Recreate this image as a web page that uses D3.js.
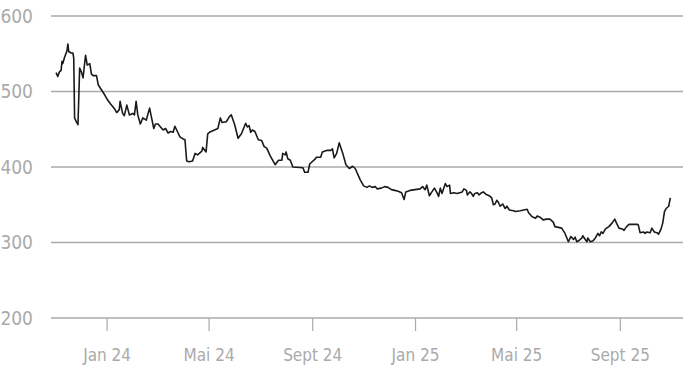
<!DOCTYPE html>
<html>
<head>
<script src="https://cdn.jsdelivr.net/npm/d3@7"></script>
<style>
  body { margin: 0; background: #fff; }
  text { font-family: "Liberation Sans Narrow", "DejaVu Sans Condensed", sans-serif; fill: #aaa; }
</style>
</head>
<body>
<svg id="chart" width="690" height="388"></svg>
<script>

// Dates of the price series
var dates = [
  "2023-11-02","2023-11-04","2023-11-06","2023-11-08","2023-11-09","2023-11-10","2023-11-12","2023-11-15","2023-11-16","2023-11-17",
  "2023-11-20","2023-11-22","2023-11-23","2023-11-24","2023-11-26","2023-11-28","2023-11-30","2023-12-02","2023-12-04","2023-12-07",
  "2023-12-09","2023-12-12","2023-12-14","2023-12-16","2023-12-20","2023-12-22","2023-12-26","2023-12-30","2024-01-02","2024-01-06",
  "2024-01-11","2024-01-13","2024-01-16","2024-01-17","2024-01-20","2024-01-22","2024-01-25","2024-01-28","2024-02-01","2024-02-03",
  "2024-02-05","2024-02-07","2024-02-10","2024-02-13","2024-02-17","2024-02-21","2024-02-23","2024-02-26","2024-02-28","2024-03-02",
  "2024-03-05","2024-03-08","2024-03-11","2024-03-14","2024-03-17","2024-03-20","2024-03-22","2024-03-25","2024-03-28","2024-04-01",
  "2024-04-03","2024-04-05","2024-04-08","2024-04-12","2024-04-15","2024-04-18","2024-04-23","2024-04-24","2024-04-28","2024-04-30",
  "2024-05-02","2024-05-12","2024-05-15","2024-05-17","2024-05-22","2024-05-26","2024-05-28","2024-06-01","2024-06-05","2024-06-09",
  "2024-06-14","2024-06-16","2024-06-18","2024-06-20","2024-06-22","2024-06-25","2024-06-29","2024-07-03","2024-07-06","2024-07-09",
  "2024-07-13","2024-07-17","2024-07-19","2024-07-23","2024-07-27","2024-07-28","2024-07-31","2024-08-01","2024-08-03","2024-08-06",
  "2024-08-09","2024-08-21","2024-08-23","2024-08-27","2024-08-29","2024-09-04","2024-09-06","2024-09-11","2024-09-13","2024-09-18",
  "2024-09-23","2024-09-25","2024-09-27","2024-09-30","2024-10-03","2024-10-07","2024-10-11","2024-10-15","2024-10-19","2024-10-22",
  "2024-10-28","2024-11-01","2024-11-05","2024-11-08","2024-11-11","2024-11-15","2024-11-17","2024-11-22","2024-11-26","2024-11-30",
  "2024-12-04","2024-12-08","2024-12-12","2024-12-16","2024-12-19","2024-12-21","2024-12-26","2025-01-01","2025-01-07","2025-01-10",
  "2025-01-13","2025-01-15","2025-01-18","2025-01-21","2025-01-24","2025-01-27","2025-01-29","2025-01-31","2025-02-02","2025-02-06",
  "2025-02-08","2025-02-11","2025-02-12","2025-02-16","2025-02-20","2025-02-23","2025-02-26","2025-02-28","2025-03-03","2025-03-04",
  "2025-03-07","2025-03-09","2025-03-11","2025-03-13","2025-03-16","2025-03-18","2025-03-21","2025-03-23","2025-03-26","2025-03-30",
  "2025-04-02","2025-04-04","2025-04-06","2025-04-08","2025-04-10","2025-04-12","2025-04-15","2025-04-18","2025-04-20","2025-04-23",
  "2025-04-28","2025-04-30","2025-05-06","2025-05-14","2025-05-16","2025-05-20","2025-05-24","2025-05-26","2025-05-30","2025-06-02",
  "2025-06-06","2025-06-10","2025-06-14","2025-06-16","2025-06-20","2025-06-24","2025-06-28","2025-07-02","2025-07-05","2025-07-08",
  "2025-07-10","2025-07-12","2025-07-15","2025-07-18","2025-07-19","2025-07-22","2025-07-24","2025-07-25","2025-07-28","2025-07-31",
  "2025-08-03","2025-08-06","2025-08-08","2025-08-10","2025-08-12","2025-08-15","2025-08-19","2025-08-23","2025-08-26","2025-08-28",
  "2025-08-31","2025-09-04","2025-09-06","2025-09-09","2025-09-12","2025-09-22","2025-09-23","2025-09-25","2025-09-29","2025-10-01",
  "2025-10-03","2025-10-07","2025-10-09","2025-10-12","2025-10-15","2025-10-17","2025-10-20","2025-10-22","2025-10-24","2025-10-26",
  "2025-10-29","2025-10-31"
];

// Price values, same order as dates
var prices = [
  525,520,526,528,540,537,545,554,563,553,
  551,551,544,465,460,456,531,526,518,548,
  535,537,523,521,521,509,502,495,489,483,
  476,472,476,487,471,468,482,469,471,469,
  487,469,457,465,462,478,467,451,457,457,
  453,449,451,445,447,446,454,447,440,437,
  436,408,407,408,418,416,421,426,420,444,
  446,451,465,459,460,467,469,456,438,444,
  458,453,455,446,449,447,436,435,427,425,
  415,407,403,409,409,418,416,420,411,409,
  400,399,393,393,404,410,413,413,420,422,
  422,424,412,418,432,419,403,398,401,398,
  383,375,373,375,373,374,371,372,374,373,
  370,369,368,366,357,367,369,370,371,374,
  370,376,362,367,372,366,361,372,365,378,
  374,376,365,366,365,366,367,371,369,363,
  367,365,361,365,366,363,366,367,364,362,
  359,350,351,356,353,348,351,345,348,343,
  342,341,342,344,339,334,332,335,333,330,
  331,331,327,321,320,319,312,301,308,304,
  307,301,303,306,309,304,301,306,301,302,
  306,312,309,314,312,318,321,326,331,326,
  319,318,316,321,324,324,323,313,314,312,
  314,313,319,314,313,311,318,326,341,345,
  348,359
];

var yTicks = [200, 300, 400, 500, 600];
var xTickDates = ["2024-01-01", "2024-05-01", "2024-09-01", "2025-01-01", "2025-05-01", "2025-09-01"];
var xTickLabels = ["Jan 24", "Mai 24", "Sept 24", "Jan 25", "Mai 25", "Sept 25"];

var parse = d3.utcParse("%Y-%m-%d");
var data = dates.map(function(d, i) { return { date: parse(d), value: prices[i] }; });

var svg = d3.select("#chart");

// plot area
var plotLeft = 51, plotRight = 683, plotTop = 16, plotBottom = 318;

var x = d3.scaleUtc()
    .domain([parse("2023-10-27"), parse("2025-11-15")])
    .range([plotLeft, plotRight]);

var y = d3.scaleLinear()
    .domain([200, 600])
    .range([plotBottom, plotTop]);

// horizontal grid lines
svg.append("g")
  .selectAll("line")
  .data(yTicks)
  .join("line")
    .attr("x1", plotLeft)
    .attr("x2", plotRight)
    .attr("y1", function(d) { return y(d); })
    .attr("y2", function(d) { return y(d); })
    .attr("stroke", "#aaa")
    .attr("stroke-width", 1.6);

// y labels
svg.append("g")
  .selectAll("text")
  .data(yTicks)
  .join("text")
    .attr("x", 33)
    .attr("y", function(d) { return y(d); })
    .attr("dy", "0.35em")
    .attr("text-anchor", "end")
    .style("font-size", "19px")
    .text(function(d) { return d; });

// x axis ticks + labels
var xAxis = d3.axisBottom(x)
    .tickValues(xTickDates.map(parse))
    .tickFormat(function(d, i) { return xTickLabels[i]; })
    .tickSize(13)
    .tickPadding(18);

var gx = svg.append("g")
    .attr("transform", "translate(0," + plotBottom + ")")
    .call(xAxis);

gx.select(".domain").remove();
gx.selectAll(".tick line").attr("stroke", "#aaa").attr("stroke-width", 1.2);
gx.selectAll(".tick text")
    .attr("fill", "#aaa")
    .style("font-size", "17px")
    .style("font-family", "'Liberation Sans Narrow', 'DejaVu Sans Condensed', sans-serif");

// price line
var line = d3.line()
    .x(function(d) { return x(d.date); })
    .y(function(d) { return y(d.value); });

svg.append("path")
    .datum(data)
    .attr("fill", "none")
    .attr("stroke", "#1a1a1a")
    .attr("stroke-width", 1.6)
    .attr("stroke-linejoin", "round")
    .attr("d", line);

</script>
</body>
</html>
